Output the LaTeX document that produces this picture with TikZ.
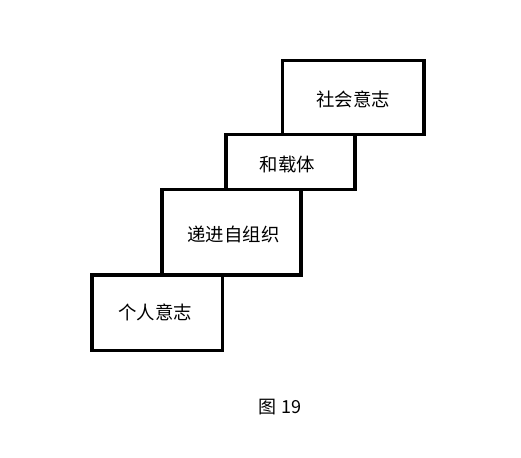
\documentclass[tikz,border=0pt]{standalone}
\usepackage{fontspec}
\newfontfamily\cjk{Noto Sans CJK SC}
\begin{document}
\begin{tikzpicture}[x=0.75pt,y=-0.75pt,
  stepbox/.style={draw=black, line width=2.3pt, inner sep=0pt, font=\cjk\fontsize{13.8}{16}\selectfont, text=black},
  caption/.style={font=\cjk\fontsize{13.5}{16}\selectfont, text=black}]
\useasboundingbox[fill=white] (0,0) rectangle (521,457);
\node[stepbox, minimum width=141.5*0.75pt, minimum height=74*0.75pt] (b1) at (353.25,97.5) {};
\node[stepbox, minimum width=129*0.75pt, minimum height=55*0.75pt] (b2) at (290.5,162) {};
\node[stepbox, minimum width=139*0.75pt, minimum height=85.5*0.75pt] (b3) at (231.5,232.25) {};
\node[stepbox, minimum width=130.5*0.75pt, minimum height=75.5*0.75pt] (b4) at (157.25,312.75) {};
\node[stepbox, draw=none] (t1) at ([yshift=-2*0.75pt]b1.center) {社会意志};
\node[stepbox, draw=none] (t2) at ([xshift=-3*0.75pt, yshift=-2.5*0.75pt]b2.center) {和载体};
\node[stepbox, draw=none] (t3) at ([xshift=2*0.75pt, yshift=-2.5*0.75pt]b3.center) {递进自组织};
\node[stepbox, draw=none] (t4) at ([xshift=-2*0.75pt, yshift=0.5*0.75pt]b4.center) {个人意志};
\node[caption] (cap) at (280,407) {图 19};
\end{tikzpicture}
\end{document}
